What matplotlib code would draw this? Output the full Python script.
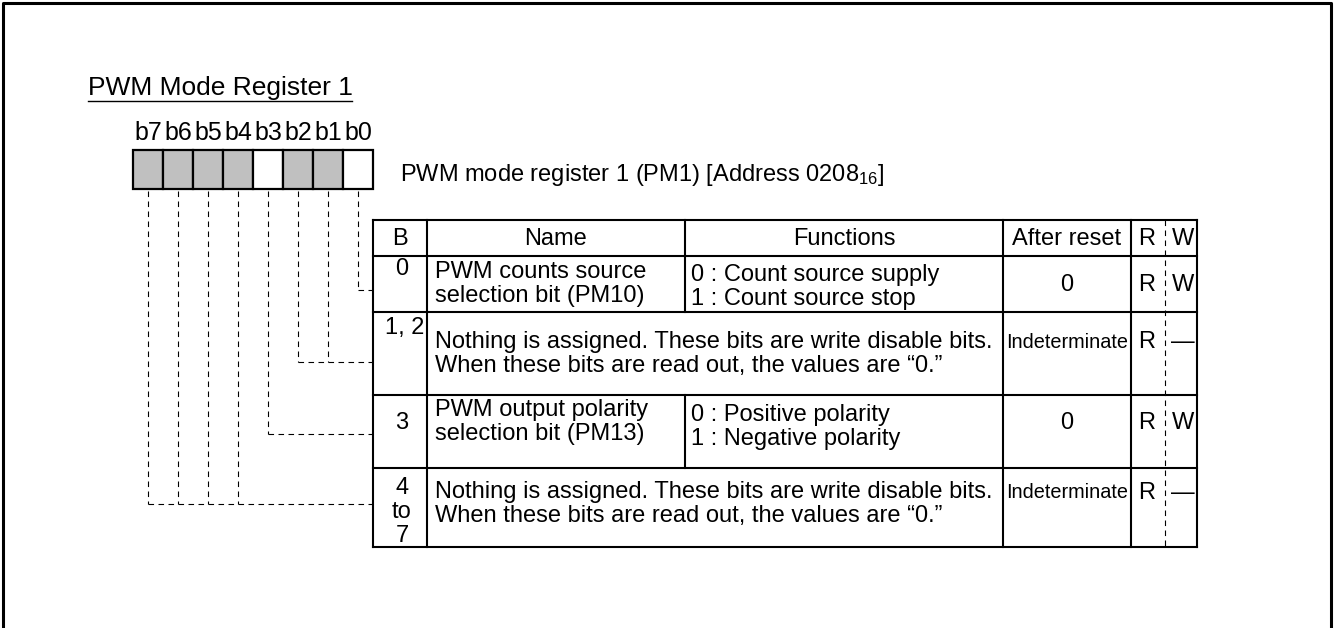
import matplotlib
matplotlib.use("Agg")
import matplotlib.pyplot as plt
from matplotlib.patches import Rectangle

# register data
title = "PWM Mode Register 1"
bit_labels = ["b7", "b6", "b5", "b4", "b3", "b2", "b1", "b0"]
bit_shaded = [True, True, True, True, False, True, True, False]
reg_desc = r"PWM mode register 1 (PM1) [Address 0208$_{\mathregular{16}}$]"

headers = ["B", "Name", "Functions", "After reset", "R", "W"]
row_bits = ["0", "1, 2", "3", "4\nto\n7"]
row_names = ["PWM counts source\nselection bit (PM10)", None,
             "PWM output polarity\nselection bit (PM13)", None]
row_funcs = ["0 : Count source supply\n1 : Count source stop",
             "Nothing is assigned. These bits are write disable bits.\nWhen these bits are read out, the values are \u201c0.\u201d",
             "0 : Positive polarity\n1 : Negative polarity",
             "Nothing is assigned. These bits are write disable bits.\nWhen these bits are read out, the values are \u201c0.\u201d"]
row_reset = ["0", "Indeterminate", "0", "Indeterminate"]
row_r = ["R", "R", "R", "R"]
row_w = ["W", "\u2014", "W", "\u2014"]
# which bits point at each row
row_links = [[0], [1, 2], [3], [4, 5, 6, 7]]

# layout (pixels)
W, H = 1334, 628
box_x0, box_w, box_y0, box_y1 = 133, 30, 150, 189
cols = [373, 427, 685, 1003, 1131, 1197]
rw_split = 1165
rows = [220, 256, 312, 395, 468, 547]
link_y = [290, 362, 434, 504]
name_y = [284, 354, 422, 504]
func_y = [287, 354, 427, 504]
val_y = [285, 342, 423, 493]
bit_y = [269, 328, 423, 512]

plt.rcParams['font.family'] = ['Liberation Sans', 'DejaVu Sans']
plt.rcParams['mathtext.fontset'] = 'custom'
plt.rcParams['mathtext.rm'] = 'Liberation Sans'
plt.rcParams['mathtext.default'] = 'regular'
fig = plt.figure(figsize=(W / 100, H / 100), dpi=100)
ax = fig.add_axes([0, 0, 1, 1])
ax.set_xlim(0, W)
ax.set_ylim(H, 0)
ax.axis("off")

# outer frame (bottom edge is off the picture)
ax.plot([3, 3, 1331, 1331], [H + 5, 3, 3, H + 5], color="black", lw=2.2)

# title
ax.text(88, 88, title, fontsize=19, ha="left", va="center")
ax.plot([88, 352], [101, 101], color="black", lw=1.0)

# bit boxes
for i, (lab, sh) in enumerate(zip(bit_labels, bit_shaded)):
    x = box_x0 + i * box_w
    ax.add_patch(Rectangle((x, box_y0), box_w, box_y1 - box_y0,
                           facecolor="#c0c0c0" if sh else "white",
                           edgecolor="black", lw=1.6))
    ax.text(x + box_w / 2, 133, lab, fontsize=18, ha="center", va="center")

ax.text(400, 175, reg_desc, fontsize=17, ha="left", va="center")

# dashed leader lines
dash = dict(color="black", lw=0.8, linestyle=(0, (5, 4)))
for ly, bits in zip(link_y, row_links):
    xs = []
    for b in bits:
        cx = box_x0 + (7 - b) * box_w + box_w / 2
        xs.append(cx)
        ax.plot([cx, cx], [box_y1 + 2, ly], **dash)
    ax.plot([min(xs), cols[0]], [ly, ly], **dash)

# table grid
lw = 1.5
for y in rows:
    ax.plot([cols[0], cols[-1]], [y, y], color="black", lw=lw)
for x in [cols[0], cols[1], cols[3], cols[4], cols[5]]:
    ax.plot([x, x], [rows[0], rows[-1]], color="black", lw=lw)
# name / functions split only where a name exists
ax.plot([cols[2], cols[2]], [rows[0], rows[1]], color="black", lw=lw)
for i, nm in enumerate(row_names):
    if nm is not None:
        ax.plot([cols[2], cols[2]], [rows[i + 1], rows[i + 2]], color="black", lw=lw)
ax.plot([rw_split, rw_split], [rows[0], rows[-1]], **dash)

fs = 17
hy = (rows[0] + rows[1]) / 2 + 1
hx = [(cols[0] + cols[1]) / 2, (cols[1] + cols[2]) / 2, (cols[2] + cols[3]) / 2,
      (cols[3] + cols[4]) / 2, 1147, 1183]
for x, h in zip(hx, headers):
    ax.text(x, hy, h, fontsize=fs, ha="center", va="center")

for i in range(4):
    if row_bits[i] == "1, 2":
        ax.text(cols[1] - 3, bit_y[i], row_bits[i], fontsize=fs, ha="right", va="center")
    else:
        ax.text(hx[0] + 2, bit_y[i], row_bits[i], fontsize=fs, ha="center", va="center",
                linespacing=1.12)
    if row_names[i] is not None:
        ax.text(435, name_y[i], row_names[i], fontsize=fs, ha="left", va="center",
                linespacing=1.17)
        ax.text(691, func_y[i], row_funcs[i], fontsize=fs, ha="left", va="center",
                linespacing=1.08)
    else:
        ax.text(435, func_y[i], row_funcs[i], fontsize=fs, ha="left", va="center",
                linespacing=1.17)
    if row_reset[i] == "Indeterminate":
        ax.text(hx[3], val_y[i], row_reset[i], fontsize=14.3, ha="center", va="center")
    else:
        ax.text(hx[3], val_y[i], row_reset[i], fontsize=fs, ha="center", va="center")
    ax.text(hx[4], val_y[i], row_r[i], fontsize=fs, ha="center", va="center")
    ax.text(hx[5], val_y[i], row_w[i], fontsize=fs, ha="center", va="center")

fig.savefig("out.png", dpi=100)
